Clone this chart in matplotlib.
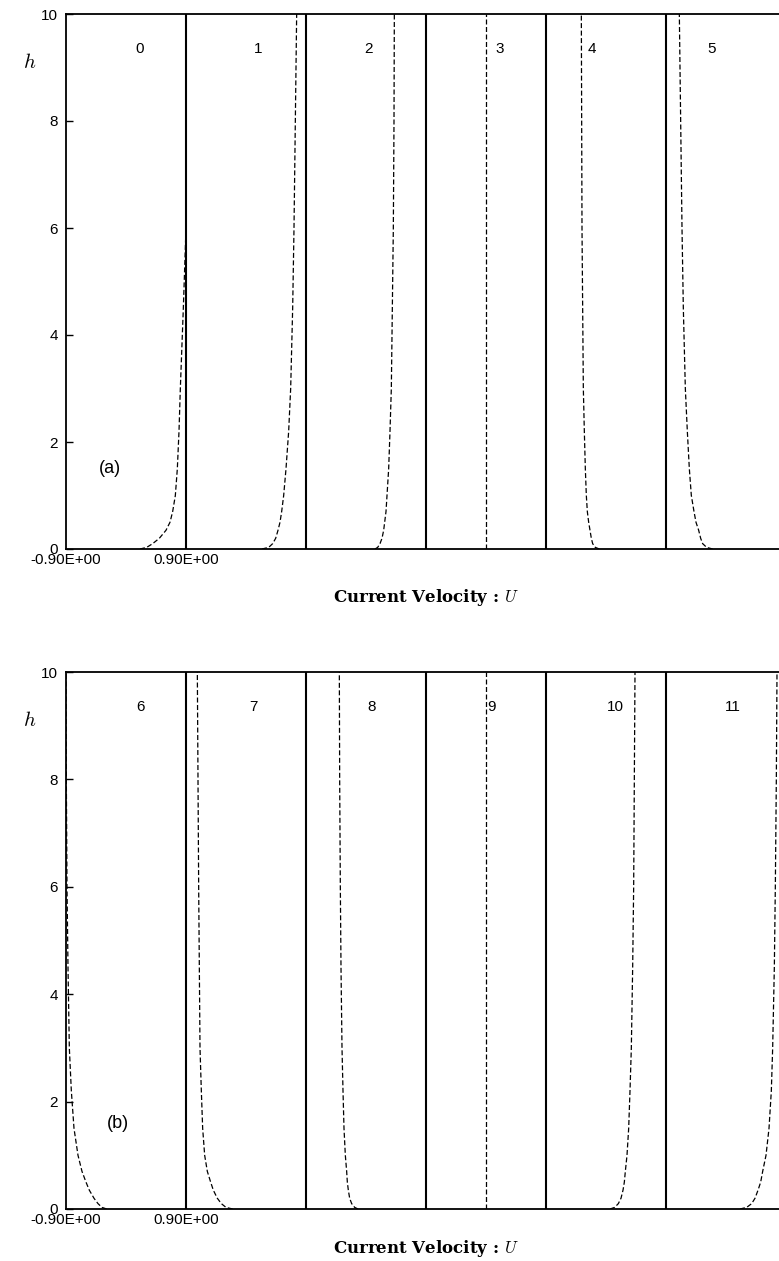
import matplotlib
matplotlib.use("Agg")
import matplotlib.pyplot as plt
import numpy as np

plt.rcParams['font.family'] = ['Liberation Sans', 'DejaVu Sans']
plt.rcParams['mathtext.fontset'] = 'cm'

h_levels = [0, 0.03, 0.1, 0.2, 0.35, 0.5, 0.7, 1.0, 1.5, 2.2, 3, 4.5, 6, 8, 10]

# panel (a), sub-panels 0..5 : U at each h level
u_a = [
    [0.21, 0.31, 0.40, 0.50, 0.60, 0.66, 0.70, 0.74, 0.77, 0.795, 0.815, 0.86, 0.90, 0.90, 0.90],
    [0.24, 0.34, 0.40, 0.445, 0.48, 0.51, 0.535, 0.565, 0.60, 0.64, 0.67, 0.70, 0.72, 0.74, 0.76],
    [0.135, 0.175, 0.21, 0.24, 0.265, 0.28, 0.30, 0.315, 0.34, 0.36, 0.38, 0.395, 0.41, 0.42, 0.425],
    [0.0] * 15,
    [-0.10, -0.16, -0.20, -0.22, -0.24, -0.26, -0.28, -0.295, -0.31, -0.325, -0.34, -0.35, -0.36, -0.365, -0.37],
    [-0.20, -0.29, -0.35, -0.38, -0.41, -0.45, -0.48, -0.52, -0.55, -0.58, -0.61, -0.64, -0.66, -0.68, -0.70],
]
# panel (b), sub-panels 6..11
u_b = [
    [-0.29, -0.36, -0.42, -0.48, -0.55, -0.60, -0.66, -0.72, -0.78, -0.82, -0.85, -0.87, -0.885, -0.895, -0.90],
    [-0.20, -0.30, -0.37, -0.43, -0.49, -0.53, -0.58, -0.62, -0.65, -0.67, -0.69, -0.70, -0.71, -0.72, -0.73],
    [-0.12, -0.17, -0.215, -0.245, -0.265, -0.28, -0.29, -0.31, -0.33, -0.345, -0.36, -0.375, -0.385, -0.395, -0.40],
    [0.0] * 15,
    [0.06, 0.13, 0.185, 0.225, 0.255, 0.275, 0.29, 0.315, 0.34, 0.36, 0.38, 0.40, 0.415, 0.425, 0.435],
    [0.21, 0.31, 0.385, 0.435, 0.48, 0.52, 0.55, 0.60, 0.645, 0.68, 0.70, 0.725, 0.74, 0.755, 0.765],
]
labels_a = ['0', '1', '2', '3', '4', '5']
labels_b = ['6', '7', '8', '9', '10', '11']
u_min, u_max = -0.9, 0.9
xtick_labels = ['-0.90E+00', '0.90E+00']

# where the sub-panel numbers sit (in sub-panel units)
label_x_a = [0.617, 1.6, 2.517, 3.617, 4.383, 5.383]
label_x_b = [0.617, 1.558, 2.55, 3.55, 4.575, 5.558]

fig = plt.figure(figsize=(7.79, 12.61), dpi=100)
ax_a = fig.add_axes([66 / 779, 712 / 1261, 720 / 779, 535 / 1261])
ax_b = fig.add_axes([66 / 779, 52 / 1261, 720 / 779, 537 / 1261])


def draw(ax, profiles, labels, label_x, tag, tag_pos, pad):
    n = len(profiles)
    for k, u in enumerate(profiles):
        xc = k + (np.array(u) - u_min) / (u_max - u_min)
        ax.plot(xc, h_levels, color='black', lw=0.9, ls=(0, (4, 2)))
        ax.text(label_x[k], 9.35, labels[k], ha='center', va='center', fontsize=11)
    for k in range(1, n):
        ax.axvline(k, color='black', lw=1.5)
    ax.set_xlim(0, n)
    ax.set_ylim(0, 10)
    ax.set_yticks([0, 2, 4, 6, 8, 10])
    ax.set_xticks([0, 1])
    ax.set_xticklabels(xtick_labels)
    ax.tick_params(axis='y', direction='in', length=5, width=1, labelsize=11, pad=6)
    ax.tick_params(axis='x', length=0, labelsize=11, pad=3)
    for s in ax.spines.values():
        s.set_linewidth(1.3)
    ax.spines['right'].set_visible(False)
    ax.text(tag_pos[0], tag_pos[1], tag, fontsize=13, ha='center', va='center')
    ax.text(-0.3, 9.1, '$h$', fontsize=15, ha='center', va='center')
    ax.set_xlabel(r'Current Velocity : $U$', fontfamily='DejaVu Serif',
                  fontweight='bold', fontsize=12, labelpad=pad)


draw(ax_a, u_a, labels_a, label_x_a, '(a)', (0.37, 1.5), 14)
draw(ax_b, u_b, labels_b, label_x_b, '(b)', (0.43, 1.6), 8)

fig.savefig('out.png', dpi=100)
